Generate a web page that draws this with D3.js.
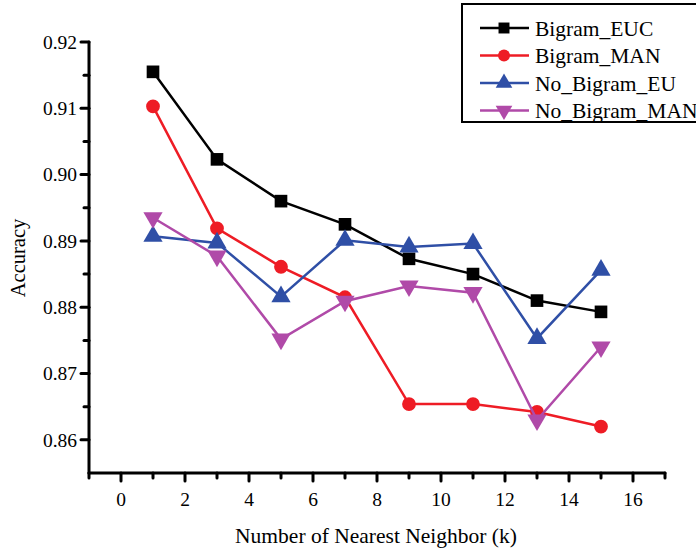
<!DOCTYPE html>
<html>
<head>
<meta charset="utf-8">
<title>Accuracy vs k</title>
<script src="https://cdn.jsdelivr.net/npm/d3@7"></script>
<style>
  body { margin: 0; background: #fff; }
  text { font-family: "Liberation Serif", "DejaVu Serif", serif; fill: #000; }
</style>
</head>
<body>
<script>
// data
var kValues = [1, 3, 5, 7, 9, 11, 13, 15];
var seriesNames = ["Bigram_EUC", "Bigram_MAN", "No_Bigram_EU", "No_Bigram_MAN"];
var bigramEUC   = [0.9155, 0.9023, 0.8960, 0.8925, 0.8873, 0.8850, 0.8810, 0.8793];
var bigramMAN   = [0.9103, 0.8919, 0.8861, 0.8815, 0.8654, 0.8654, 0.8642, 0.8620];
var noBigramEU  = [0.8907, 0.8897, 0.8816, 0.8901, 0.8891, 0.8896, 0.8753, 0.8856];
var noBigramMAN = [0.8935, 0.8877, 0.8752, 0.8809, 0.8832, 0.8822, 0.8630, 0.8740];
var xTicks = [0, 2, 4, 6, 8, 10, 12, 14, 16];
var yTicks = [0.86, 0.87, 0.88, 0.89, 0.90, 0.91, 0.92];

var colors = ["#000000", "#ee1c25", "#2f4fa6", "#b04aa8"];
var symbols = [d3.symbolSquare, d3.symbolCircle, d3.symbolTriangle, d3.symbolTriangle];
var symSize = [160, 150, 160, 160];
var allSeries = [bigramEUC, bigramMAN, noBigramEU, noBigramMAN];

var width = 696, height = 548;
var svg = d3.select("body").append("svg")
  .attr("width", width).attr("height", height);

var x = d3.scaleLinear().domain([-1, 17]).range([89, 665]);
var y = d3.scaleLinear().domain([0.855, 0.92]).range([473, 42]);

// axes
var gx = svg.append("g").attr("transform", "translate(0,473)");
gx.append("line").attr("x1", x(-1)).attr("x2", x(17))
  .attr("stroke", "#000").attr("stroke-width", 3).attr("stroke-linecap", "round");
var xMinor = d3.range(-1, 18, 1);
gx.selectAll(".xt").data(xMinor).enter().append("line")
  .attr("x1", function(d){ return x(d); }).attr("x2", function(d){ return x(d); })
  .attr("y1", 0).attr("y2", function(d){ return d % 2 === 0 ? 8 : 5; })
  .attr("stroke", "#000").attr("stroke-width", 3).attr("stroke-linecap", "round");
gx.selectAll(".xl").data(xTicks).enter().append("text")
  .attr("x", function(d){ return x(d); }).attr("y", 33)
  .attr("text-anchor", "middle").attr("font-size", 19.5)
  .text(function(d){ return d; });

var gy = svg.append("g").attr("transform", "translate(89,0)");
gy.append("line").attr("y1", y(0.855)).attr("y2", y(0.92))
  .attr("stroke", "#000").attr("stroke-width", 3).attr("stroke-linecap", "round");
var yMinor = d3.range(0, 13).map(function(i){ return 0.86 + i * 0.005; });
gy.selectAll(".yt").data(yMinor).enter().append("line")
  .attr("y1", function(d){ return y(d); }).attr("y2", function(d){ return y(d); })
  .attr("x1", 0).attr("x2", function(d, i){ return i % 2 === 0 ? -8 : -5; })
  .attr("stroke", "#000").attr("stroke-width", 3).attr("stroke-linecap", "round");
gy.selectAll(".yl").data(yTicks).enter().append("text")
  .attr("x", -12).attr("y", function(d){ return y(d); }).attr("dy", "0.35em")
  .attr("text-anchor", "end").attr("font-size", 19.5)
  .text(function(d){ return d3.format(".2f")(d); });

svg.append("text").attr("x", 376).attr("y", 543)
  .attr("text-anchor", "middle").attr("font-size", 21.5)
  .text("Number of Nearest Neighbor (k)");
svg.append("text").attr("transform", "translate(25,258) rotate(-90)")
  .attr("text-anchor", "middle").attr("font-size", 20.5)
  .text("Accuracy");

// lines and markers
var line = d3.line().x(function(d){ return x(d.k); }).y(function(d){ return y(d.v); });
allSeries.forEach(function(vals, s) {
  var pts = kValues.map(function(k, i){ return {k: k, v: vals[i]}; });
  svg.append("path").datum(pts).attr("d", line)
    .attr("fill", "none").attr("stroke", colors[s]).attr("stroke-width", 2.5);
  svg.selectAll(".m" + s).data(pts).enter().append("path")
    .attr("transform", function(d){
      return "translate(" + x(d.k) + "," + y(d.v) + ")" + (s === 3 ? " rotate(180)" : "");
    })
    .attr("d", d3.symbol().type(symbols[s]).size(symSize[s]))
    .attr("fill", colors[s]);
});

// legend
var lg = svg.append("g");
lg.append("rect").attr("x", 462).attr("y", 4).attr("width", 250).attr("height", 118)
  .attr("fill", "#fff").attr("stroke", "#000").attr("stroke-width", 2);
seriesNames.forEach(function(name, s) {
  var ly = 28 + s * 27.5;
  lg.append("line").attr("x1", 480).attr("x2", 529).attr("y1", ly).attr("y2", ly)
    .attr("stroke", colors[s]).attr("stroke-width", 2.5);
  lg.append("path")
    .attr("transform", "translate(504," + ly + ")" + (s === 3 ? " rotate(180)" : ""))
    .attr("d", d3.symbol().type(symbols[s]).size(symSize[s] * 0.75))
    .attr("fill", colors[s]);
  lg.append("text").attr("x", 535).attr("y", ly).attr("dy", "0.35em")
    .attr("font-size", 21.5).text(name);
});
</script>
</body>
</html>
